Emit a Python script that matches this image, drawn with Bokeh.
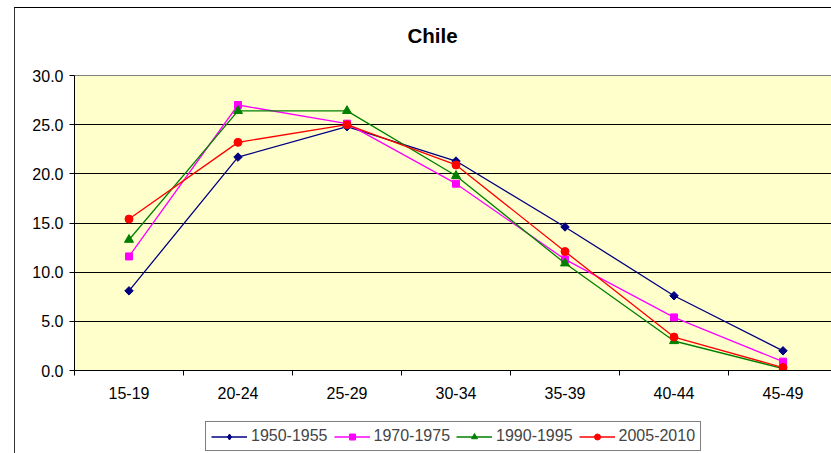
from bokeh.plotting import figure
from bokeh.layouts import column
from bokeh.models import (Range1d, FixedTicker, PrintfTickFormatter, Legend, LegendItem, Label)
from bokeh.embed import file_html
from bokeh.resources import INLINE

# ---- data ----
chart_title = "Chile"
age_groups = ["15-19", "20-24", "25-29", "30-34", "35-39", "40-44", "45-49"]
y_ticks = [0, 5, 10, 15, 20, 25, 30]
series_names = ["1950-1955", "1970-1975", "1990-1995", "2005-2010"]
v_1950_1955 = [8.1, 21.7, 24.8, 21.3, 14.6, 7.6, 2.0]
v_1970_1975 = [11.6, 27.0, 25.1, 19.0, 11.3, 5.4, 0.9]
v_1990_1995 = [13.3, 26.4, 26.4, 19.8, 10.9, 3.0, 0.2]
v_2005_2010 = [15.4, 23.2, 25.0, 20.9, 12.1, 3.4, 0.3]

series_values = [v_1950_1955, v_1970_1975, v_1990_1995, v_2005_2010]
colors = ["#000080", "#FF00FF", "#008000", "#FF0000"]
markers = ["square", "square", "triangle", "circle"]
angles = [0.7853981634, 0, 0, 0]
sizes = [6, 7, 9, 8]
legend_markers = ["diamond", "square", "triangle", "circle"]

FONT = "Liberation Sans"
FS = "16px"
n = len(age_groups)
xs = [i + 0.5 for i in range(n)]

W = 817

# ---- title strip ----
t = figure(width=W, height=58, output_backend="svg", toolbar_location=None,
           x_axis_type=None, y_axis_type=None, x_range=Range1d(0, 1), y_range=Range1d(0, 1),
           min_border=0, outline_line_color=None, background_fill_color="white",
           border_fill_color="white")
t.grid.visible = False
t.add_layout(Label(x=358, y=31, x_units="screen", y_units="screen", text=chart_title,
                   text_align="center", text_baseline="middle", text_font=FONT,
                   text_font_size="20.5px", text_font_style="bold", text_color="black"))

# ---- main chart ----
p = figure(width=W, height=350, output_backend="svg", toolbar_location=None,
           x_range=Range1d(0, 6.954), y_range=Range1d(0, 30),
           min_border_left=59, min_border_right=0, min_border_top=9, min_border_bottom=46,
           background_fill_color="#FFFFCC", border_fill_color="white",
           outline_line_color="#808080")

p.xaxis.ticker = FixedTicker(ticks=xs, minor_ticks=list(range(n + 1)))
p.xaxis.major_label_overrides = {x: lab for x, lab in zip(xs, age_groups)}
p.xaxis.major_tick_out = 0
p.xaxis.major_tick_in = 0
p.xaxis.minor_tick_out = 5
p.xaxis.minor_tick_in = 0
p.xaxis.minor_tick_line_color = "black"
p.xaxis.axis_line_color = "black"
p.xaxis.major_label_standoff = 11
p.xaxis.major_label_text_font = FONT
p.xaxis.major_label_text_font_size = FS
p.xaxis.major_label_text_color = "black"

p.yaxis.ticker = FixedTicker(ticks=y_ticks, minor_ticks=[])
p.yaxis.formatter = PrintfTickFormatter(format="%.1f")
p.yaxis.major_tick_out = 5
p.yaxis.major_tick_in = 0
p.yaxis.major_tick_line_color = "black"
p.yaxis.axis_line_color = "black"
p.yaxis.major_label_standoff = 6
p.yaxis.major_label_text_font = FONT
p.yaxis.major_label_text_font_size = FS
p.yaxis.major_label_text_color = "black"

p.xgrid.visible = False
p.ygrid.grid_line_color = "black"
p.ygrid.grid_line_width = 1

for vals, c, m, a, s in zip(series_values, colors, markers, angles, sizes):
    p.line(xs, vals, line_color=c, line_width=1.3)
    p.scatter(xs, vals, marker=m, size=s, angle=a, fill_color=c, line_color=c)

# ---- legend strip ----
q = figure(width=W, height=37, output_backend="svg", toolbar_location=None,
           x_axis_type=None, y_axis_type=None, x_range=Range1d(0, 1), y_range=Range1d(0, 1),
           min_border=0, outline_line_color=None, background_fill_color="white",
           border_fill_color="white")
q.grid.visible = False
items = []
for name, c, m in zip(series_names, colors, legend_markers):
    lr = q.line([-5, -4], [-5, -5], line_color=c, line_width=1.3)
    sr = q.scatter([-5], [-5], marker=m, size=7, fill_color=c, line_color=c)
    items.append(LegendItem(label=name, renderers=[lr, sr]))
legend = Legend(items=items, orientation="horizontal", location=(131, 2),
                label_text_font=FONT, label_text_font_size=FS,
                glyph_width=36, glyph_height=15, label_height=18,
                label_standoff=4, spacing=6, padding=5, margin=0,
                border_line_color="black", border_line_width=1,
                background_fill_color="white", background_fill_alpha=1.0)
q.add_layout(legend, "center")

col = column(t, p, q, spacing=0)
col.margin = (7, 0, 0, 14)
col.styles = {"border-left": "1px solid #333333", "border-top": "1px solid #000000"}

open("out.html", "w").write(file_html(col, INLINE))
